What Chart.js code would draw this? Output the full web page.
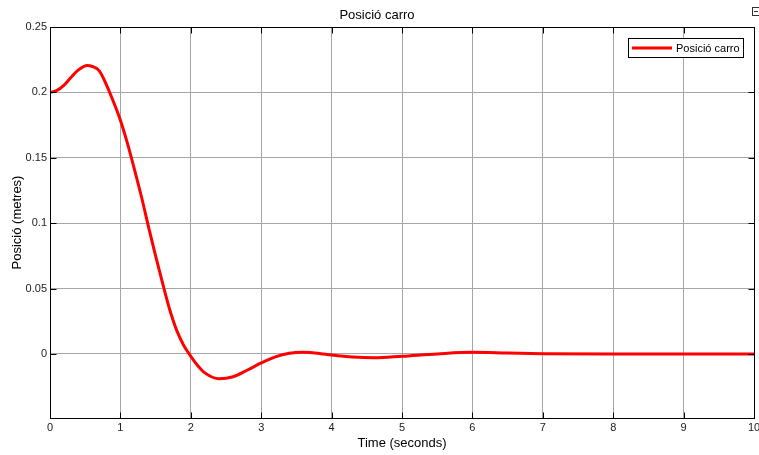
<!DOCTYPE html>
<html>
<head>
<meta charset="utf-8">
<title>Posició carro</title>
<script src="https://cdn.jsdelivr.net/npm/chart.js@4.4.1/dist/chart.umd.min.js"></script>
<style>
  html, body { margin: 0; padding: 0; background: #fff; }
  #wrap { width: 759px; height: 455px; }
</style>
</head>
<body>
<div id="wrap"><canvas id="chart_posicio" width="759" height="455"></canvas></div>
<script>
// Cart position response (metres) over time (seconds)
const timeS = [0, 0.1, 0.2, 0.3, 0.4, 0.53, 0.6, 0.7, 0.8, 0.9, 1.0,
  1.1, 1.2, 1.3, 1.4, 1.5, 1.6, 1.7, 1.8, 1.9, 2.0,
  2.1, 2.2, 2.4, 2.6, 2.8, 3.0, 3.2, 3.4, 3.6, 3.8,
  4.0, 4.3, 4.6, 5.0, 5.5, 6.0, 6.5, 7.0, 8.0, 9.0, 10.0];
const posM = [0.2, 0.2015, 0.2055, 0.2115, 0.217, 0.2205, 0.2198, 0.2165, 0.206, 0.193, 0.1787,
  0.161, 0.141, 0.12, 0.097, 0.075, 0.054, 0.034, 0.018, 0.0065, -0.0018,
  -0.009, -0.0145, -0.019, -0.0175, -0.0125, -0.0069, -0.0022, 0.0005, 0.0012, 0.0006,
  -0.0008, -0.0024, -0.003, -0.0018, 0, 0.0012, 0.0007, 0.0002, 0, 0, 0];

const xTicks = [0, 1, 2, 3, 4, 5, 6, 7, 8, 9, 10];
const yTicks = [0, 0.05, 0.1, 0.15, 0.2, 0.25];

const seriesLabel = 'Posició carro';
const titleText = 'Posició carro';
const xTitle = 'Time (seconds)';
const yTitle = 'Posició (metres)';

const FONT = '"Liberation Sans", Arial, Helvetica, sans-serif';
const TICK_LEN = 6;

// Box around the axes, inward tick marks and the legend inside the plot
const axesBox = {
  id: 'axesBox',
  afterDraw(chart) {
    const {ctx, chartArea: a, scales: {x, y}} = chart;
    const L = Math.round(a.left) + 0.5, R = Math.round(a.right) + 0.5;
    const T = Math.round(a.top) + 0.5, B = Math.round(a.bottom) + 0.5;
    ctx.save();
    ctx.strokeStyle = '#000';
    ctx.lineWidth = 1;
    ctx.strokeRect(L, T, R - L, B - T);

    ctx.beginPath();
    x.ticks.forEach(t => {
      const px = Math.round(x.getPixelForValue(t.value)) + 0.5;
      ctx.moveTo(px, B); ctx.lineTo(px, B - TICK_LEN);
      ctx.moveTo(px, T); ctx.lineTo(px, T + TICK_LEN);
    });
    y.ticks.forEach(t => {
      const py = Math.round(y.getPixelForValue(t.value)) + 0.5;
      ctx.moveTo(L, py); ctx.lineTo(L + TICK_LEN, py);
      ctx.moveTo(R, py); ctx.lineTo(R - TICK_LEN, py);
    });
    ctx.stroke();

    // legend
    const ds = chart.data.datasets[0];
    const lx = 628.5, ly = 38.5, lw = 115, lh = 19;
    ctx.fillStyle = '#fff';
    ctx.fillRect(lx, ly, lw, lh);
    ctx.strokeRect(lx, ly, lw, lh);
    ctx.beginPath();
    ctx.strokeStyle = ds.borderColor;
    ctx.lineWidth = 3;
    ctx.moveTo(632, 48);
    ctx.lineTo(672, 48);
    ctx.stroke();
    ctx.fillStyle = '#000';
    ctx.font = '11px ' + FONT;
    ctx.textBaseline = 'middle';
    ctx.textAlign = 'left';
    ctx.fillText(ds.label, 676, 48.5);

    // small window glyph in the corner
    ctx.strokeStyle = '#333';
    ctx.lineWidth = 1;
    ctx.strokeRect(752.5, 7.5, 7, 8);
    ctx.beginPath();
    ctx.moveTo(754, 11.5); ctx.lineTo(758, 11.5);
    ctx.stroke();
    ctx.restore();
  }
};

document.addEventListener('DOMContentLoaded', function() {
  if (typeof Chart === 'undefined') {
    console.error('Chart.js is not loaded');
    return;
  }

  const points = timeS.map((t, i) => ({x: t, y: posM[i]}));
  const ctx = document.getElementById('chart_posicio').getContext('2d');

  new Chart(ctx, {
    type: 'line',
    data: {
      datasets: [{
        label: seriesLabel,
        data: points,
        borderColor: '#ff0000',
        borderWidth: 3,
        pointRadius: 0,
        cubicInterpolationMode: 'monotone',
        fill: false
      }]
    },
    options: {
      responsive: false,
      animation: false,
      layout: {padding: {top: 0, right: 5, bottom: 0, left: 0}},
      plugins: {
        legend: {display: false},
        tooltip: {enabled: false},
        title: {
          display: true,
          text: titleText,
          color: '#000',
          font: {family: FONT, size: 13, weight: 'normal'},
          padding: {top: 8, bottom: 3.4}
        }
      },
      scales: {
        x: {
          type: 'linear',
          min: 0,
          max: 10,
          afterBuildTicks: s => { s.ticks = xTicks.map(v => ({value: v})); },
          afterFit: s => { s.height = 37; s.paddingLeft = 0; s.paddingRight = 0; },
          ticks: {
            color: '#222',
            font: {family: FONT, size: 11},
            padding: 3,
            maxRotation: 0,
            autoSkip: false,
            callback: v => String(v)
          },
          grid: {color: '#a6a6a6', lineWidth: 1, drawTicks: false},
          border: {display: false},
          title: {
            display: true,
            text: xTitle,
            color: '#000',
            font: {family: FONT, size: 13},
            padding: {top: 0, bottom: 4.2}
          }
        },
        y: {
          type: 'linear',
          min: -0.049,
          max: 0.25,
          afterBuildTicks: s => { s.ticks = yTicks.map(v => ({value: v})); },
          afterFit: s => { s.width = 50; s.paddingTop = 0; s.paddingBottom = 0; },
          ticks: {
            color: '#222',
            font: {family: FONT, size: 11},
            padding: 3,
            autoSkip: false,
            callback: v => String(+v.toFixed(2))
          },
          grid: {color: '#a6a6a6', lineWidth: 1, drawTicks: false},
          border: {display: false},
          title: {
            display: true,
            text: yTitle,
            color: '#000',
            font: {family: FONT, size: 13},
            padding: {top: 9.5, bottom: 0}
          }
        }
      }
    },
    plugins: [axesBox]
  });
});
</script>
</body>
</html>
